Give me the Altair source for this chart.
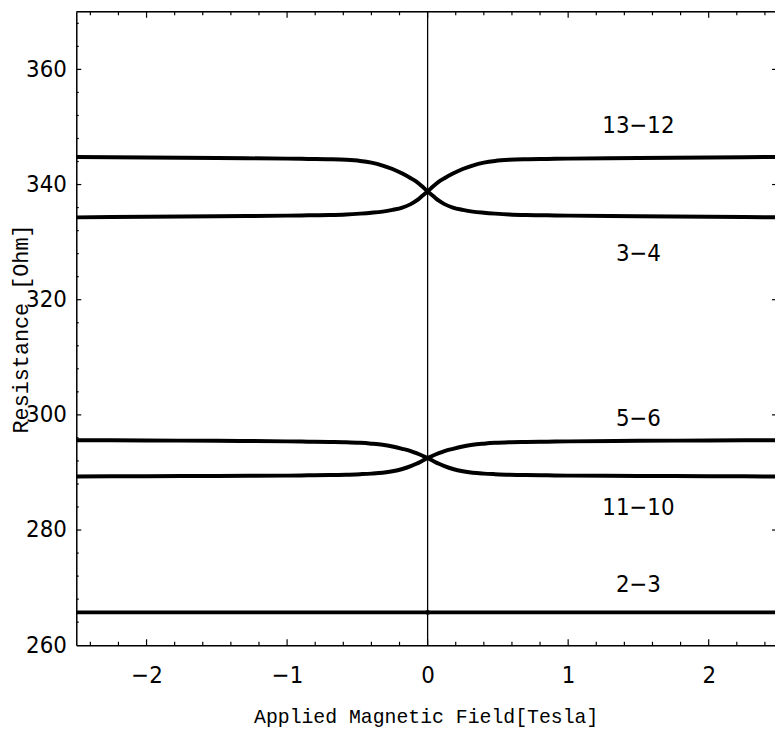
import altair as alt
import pandas as pd

# ---------------- data ----------------
field_T = [-2.5, -2.0, -1.5, -1.0, -0.85, -0.7, -0.58, -0.48, -0.4, -0.32, -0.25,
           -0.18, -0.12, -0.08, -0.04, 0.0, 0.04, 0.08, 0.12, 0.18, 0.25, 0.32,
           0.4, 0.48, 0.58, 0.7, 0.85, 1.0, 1.5, 2.0, 2.5]

r_13_12 = [334.3, 334.4, 334.5, 334.6, 334.65, 334.7, 334.8, 334.95, 335.1, 335.3, 335.6,
           336.0, 336.6, 337.2, 338.0, 338.8, 339.7, 340.5, 341.1, 341.9, 342.7, 343.3,
           343.8, 344.1, 344.3, 344.4, 344.45, 344.5, 344.6, 344.7, 344.8]
r_3_4 = [344.8, 344.7, 344.6, 344.5, 344.45, 344.4, 344.3, 344.1, 343.8, 343.3, 342.7,
         341.9, 341.1, 340.5, 339.7, 338.8, 338.0, 337.2, 336.6, 336.0, 335.6, 335.3,
         335.1, 334.95, 334.8, 334.7, 334.65, 334.6, 334.5, 334.4, 334.3]
r_5_6 = [289.3, 289.35, 289.4, 289.45, 289.5, 289.55, 289.6, 289.7, 289.8, 289.95, 290.2,
         290.6, 291.1, 291.5, 292.0, 292.5, 292.95, 293.35, 293.7, 294.1, 294.5, 294.8,
         295.0, 295.15, 295.25, 295.3, 295.35, 295.4, 295.5, 295.55, 295.6]
r_11_10 = [295.6, 295.55, 295.5, 295.4, 295.35, 295.3, 295.25, 295.15, 295.0, 294.8, 294.5,
           294.1, 293.7, 293.35, 292.95, 292.5, 292.0, 291.5, 291.1, 290.6, 290.2, 289.95,
           289.8, 289.7, 289.6, 289.55, 289.5, 289.45, 289.4, 289.35, 289.3]
field_2_3 = [-2.5, 0.0, 2.5]
r_2_3 = [265.7, 265.7, 265.7]

label_text = ["13\u221212", "3\u22124", "5\u22126", "11\u221210", "2\u22123"]
label_field = [1.5, 1.5, 1.5, 1.5, 1.5]
label_R = [350.2, 327.9, 299.3, 283.9, 270.4]

x_tick_labels = [-2, -1, 0, 1, 2]
y_tick_labels = [260, 280, 300, 320, 340, 360]

# ---------------- layout / style constants ----------------
W, H = 706, 640
X_MIN, X_MAX = -2.5, -2.5 + W / 142.0
Y_MIN, Y_MAX = 260, 370
PX_X = W / (X_MAX - X_MIN)
PX_Y = H / (Y_MAX - Y_MIN)
LABEL_FONT = "Liberation Sans Narrow, DejaVu Sans Condensed, Liberation Sans, sans-serif"
TITLE_FONT = "Liberation Mono, DejaVu Sans Mono, monospace"

# ---------------- tables ----------------
rows = []
for name, xs, ys in [("13-12", field_T, r_13_12), ("3-4", field_T, r_3_4),
                     ("5-6", field_T, r_5_6), ("11-10", field_T, r_11_10),
                     ("2-3", field_2_3, r_2_3)]:
    for i, (b, r) in enumerate(zip(xs, ys)):
        rows.append({"series": name, "B": b, "R": r, "i": i})
curves = pd.DataFrame(rows)

labels = pd.DataFrame({"text": label_text, "B": label_field, "R": label_R})

# inward tick marks on the frame (lengths in pixels converted to data units)
tick_rows = []
for k in range(-12, 13):
    v = k / 5.0
    major = (k % 5 == 0)
    L = (6.0 if major else 3.5) / PX_Y
    tick_rows.append({"x": v, "x2": v, "y": Y_MIN, "y2": Y_MIN + L})
    tick_rows.append({"x": v, "x2": v, "y": Y_MAX, "y2": Y_MAX - L})
for v in range(264, 370, 4):
    major = (v % 20 == 0)
    L = (5.0 if major else 2.5) / PX_X
    tick_rows.append({"x": X_MIN, "x2": X_MIN + L, "y": v, "y2": v})
    Lr = (7.0 if major else 3.0) / PX_X
    tick_rows.append({"x": 2.5, "x2": 2.5 - Lr, "y": v, "y2": v})
ticks = pd.DataFrame(tick_rows)

frame_top = pd.DataFrame({"x": [X_MIN], "x2": [2.5], "y": [Y_MAX], "y2": [Y_MAX]})
zero_line = pd.DataFrame({"x": [0.0], "x2": [0.0], "y": [Y_MIN], "y2": [Y_MAX]})
zero_point = pd.DataFrame({"B": [0.0], "R": [265.7]})

xscale = alt.Scale(domain=[X_MIN, X_MAX], nice=False, zero=False)
yscale = alt.Scale(domain=[Y_MIN, Y_MAX], nice=False, zero=False)

x_axis = alt.Axis(values=x_tick_labels, format="~g", ticks=False, tickSize=0, grid=False,
                  domain=True, domainColor="black", domainWidth=1.5,
                  labelFont=LABEL_FONT, labelFontSize=24, labelColor="black",
                  labelPadding=19, labelFlush=False, labelOverlap=False,
                  title="Applied Magnetic Field[Tesla]", titleFont=TITLE_FONT,
                  titleFontSize=20, titleFontWeight="normal", titleColor="black",
                  titleY=72, titleBaseline="middle")
y_axis = alt.Axis(values=y_tick_labels, format="~g", ticks=False, tickSize=0, grid=False,
                  domain=True, domainColor="black", domainWidth=1.5,
                  labelFont=LABEL_FONT, labelFontSize=24, labelColor="black",
                  labelPadding=10, labelFlush=False, labelOverlap=False,
                  title="Resistance [Ohm]", titleFont=TITLE_FONT,
                  titleFontSize=22, titleFontWeight="normal", titleColor="black",
                  titleX=-56, titleBaseline="middle")

base_x = alt.X("B:Q", scale=xscale, axis=x_axis)
base_y = alt.Y("R:Q", scale=yscale, axis=y_axis)

rule_enc = dict(x=alt.X("x:Q", scale=xscale), x2="x2:Q",
                y=alt.Y("y:Q", scale=yscale), y2="y2:Q")

zero_layer = alt.Chart(zero_line).mark_rule(color="black", strokeWidth=1.3).encode(**rule_enc)
curve_layer = alt.Chart(curves).mark_line(color="black", strokeWidth=4,
                                          interpolate="monotone").encode(
    x=base_x, y=base_y, detail="series:N", order="i:Q")
point_layer = alt.Chart(zero_point).mark_point(color="black", filled=True, size=22,
                                               opacity=1).encode(x="B:Q", y="R:Q")
label_layer = alt.Chart(labels).mark_text(font=LABEL_FONT, fontSize=24, color="black",
                                          align="center", baseline="middle").encode(
    x="B:Q", y="R:Q", text="text:N")
tick_layer = alt.Chart(ticks).mark_rule(color="black", strokeWidth=1.2).encode(**rule_enc)
top_layer = alt.Chart(frame_top).mark_rule(color="black", strokeWidth=1.5).encode(**rule_enc)

chart = alt.layer(zero_layer, curve_layer, point_layer, label_layer, tick_layer, top_layer).properties(
    width=W, height=H,
    padding={"left": 69, "top": 0, "right": 0, "bottom": 97},
    autosize=alt.AutoSizeParams(type="none"),
).configure_view(stroke=None).configure(background="white")

chart.save("out.html", embed_options={"renderer": "svg", "actions": False})
